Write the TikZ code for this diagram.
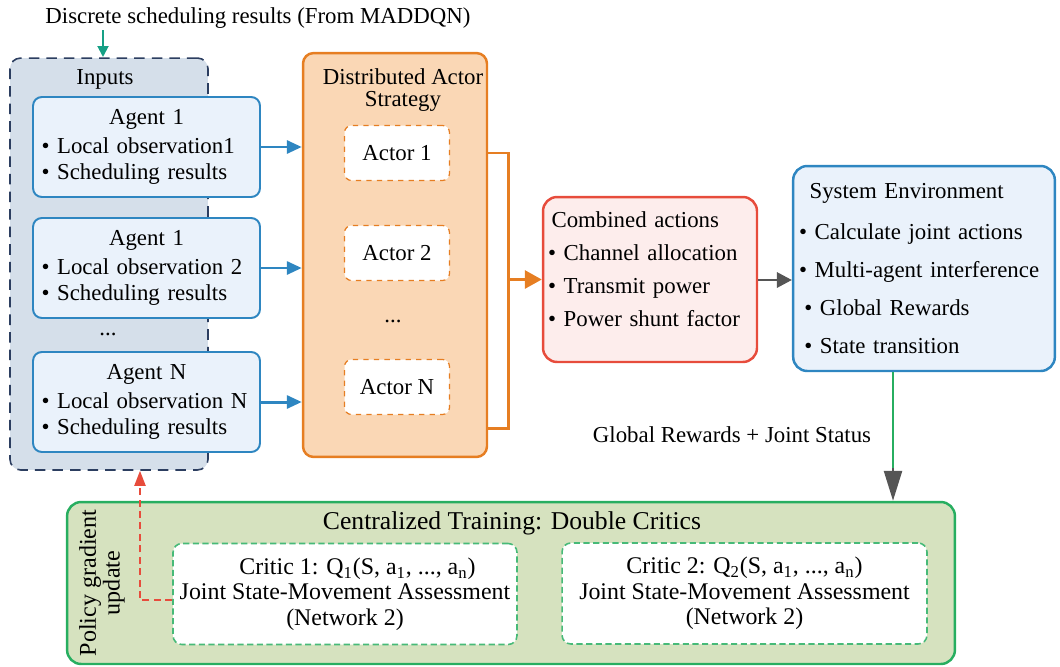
\documentclass[tikz,border=0pt]{standalone}
\usepackage{fontspec}
\setmainfont{Liberation Serif}
\usepackage{tikz}
\usetikzlibrary{arrows.meta, positioning}
\definecolor{inputnavy}{RGB}{44, 62, 96}
\definecolor{inputfill}{RGB}{213, 223, 234}
\definecolor{agentblue}{RGB}{46, 134, 193}
\definecolor{agentfill}{RGB}{234, 242, 251}
\definecolor{actororange}{RGB}{230, 126, 34}
\definecolor{actorfill}{RGB}{250, 215, 181}
\definecolor{combred}{RGB}{231, 76, 60}
\definecolor{combfill}{RGB}{253, 237, 236}
\definecolor{traingreen}{RGB}{39, 174, 96}
\definecolor{trainfill}{RGB}{214, 226, 191}
\definecolor{toparrow}{RGB}{22, 160, 133}
\definecolor{flowgray}{RGB}{85, 85, 85}

\begin{document}
\begin{tikzpicture}[
  x=0.02cm, y=-0.02cm,
  font=\fontsize{13}{14.5}\selectfont,
  group/.style={
    draw=inputnavy, dashed, dash pattern=on 6pt off 4pt, line width=0.9pt,
    rounded corners=6pt, fill=inputfill,
    minimum width=3.96cm, minimum height=8.24cm
  },
  agent/.style={
    draw=agentblue, line width=1.1pt, rounded corners=5pt, fill=agentfill,
    align=left, text width=4.2cm, inner xsep=0.17cm,
    minimum height=2cm
  },
  strategy/.style={
    draw=actororange, line width=1.4pt, rounded corners=6pt, fill=actorfill,
    minimum width=3.68cm, minimum height=8.08cm
  },
  actor/.style={
    draw=actororange, dashed, line width=0.7pt, rounded corners=4pt, fill=white,
    minimum width=2.1cm, minimum height=1.1cm
  },
  combo/.style={
    draw=combred, line width=1.4pt, rounded corners=8pt, fill=combfill,
    align=left, text width=4.08cm, inner xsep=0.1cm, minimum height=3.3cm,
    font=\fontsize{13}{18.8}\selectfont
  },
  envbox/.style={
    draw=agentblue, line width=1.4pt, rounded corners=8pt, fill=agentfill,
    align=left, text width=5.0cm, minimum height=4.1cm,
    font=\fontsize{13}{21.6}\selectfont
  },
  train/.style={
    draw=traingreen, line width=1.4pt, rounded corners=8pt, fill=trainfill,
    minimum width=17.76cm, minimum height=3.24cm
  },
  critic/.style={
    draw=traingreen!85!white, dashed, dash pattern=on 3.5pt off 2pt,
    line width=0.9pt, rounded corners=5pt,
    fill=white, minimum height=2.02cm, align=center,
    font=\fontsize{13.6}{14.5}\selectfont
  },
  feed/.style={line width=1.7pt, color=agentblue,
    -{Triangle[length=0.3cm, width=0.26cm]}},
  label/.style={inner sep=1pt}
]
  \useasboundingbox (0,0) rectangle (1060,666);

  % --- Nodes ---
  \node[label] (source) at (258, 18) {Discrete scheduling results (From MADDQN)};

  \node[group] (inputs) at (109, 264) {};
  \node[label] (inputsT) at (105, 79) {Inputs};

  \node[agent] (ag1) at (146.5, 147) {\makebox[\linewidth]{Agent 1}\\[2pt]
    \textbullet\ Local observation1\\
    \textbullet\ Scheduling results};
  \node[agent] (ag2) at (146.5, 268) {\makebox[\linewidth]{Agent 1}\\[2pt]
    \textbullet\ Local observation 2\\
    \textbullet\ Scheduling results};
  \node[label] (agDots) at (108, 334) {...};
  \node[agent] (agN) at (146.5, 402) {\makebox[\linewidth]{Agent N}\\[2pt]
    \textbullet\ Local observation N\\
    \textbullet\ Scheduling results};

  \node[strategy] (strat) at (395, 255) {};
  \node[label, align=center, font=\fontsize{13}{12.8}\selectfont] (stratT)
    at (403, 90) {Distributed Actor\\Strategy};

  \node[actor] (act1) at (397, 153) {Actor 1};
  \node[actor] (act2) at (397, 253) {Actor 2};
  \node[label] (actDots) at (393, 321) {...};
  \node[actor] (actN) at (397, 387) {Actor N};

  \node[combo] (comb) at (650, 279.5) {\hspace*{2pt}Combined actions\\
    \textbullet\ Channel allocation\\
    \textbullet\ Transmit power\\
    \textbullet\ Power shunt factor\\[-7pt]\mbox{}};

  \node[envbox] (env) at (924, 268.5) {\hspace*{6pt}System Environment\\[2pt]
    \textbullet\ Calculate joint actions\\
    \textbullet\ Multi-agent interference\\
    \hspace*{3pt}\textbullet\ Global Rewards\\
    \hspace*{3pt}\textbullet\ State transition};

  \node[train] (trainbox) at (511, 583) {};
  \node[label, font=\fontsize{14.6}{16}\selectfont] (trainT) at (512, 523)
    {Centralized Training: Double Critics};
  \node[label, rotate=90, align=center, font=\fontsize{13.7}{12}\selectfont] (pgrad)
    at (102, 583) {Policy gradient\\update};

  \node[critic, minimum width=6.88cm] (crit1) at (345, 594)
    {\hspace*{0.5cm}Critic 1: Q\textsubscript{1}(S, a\textsubscript{1}, ..., a\textsubscript{n})\\
     Joint State-Movement Assessment\\(Network 2)};
  \node[critic, minimum width=7.3cm] (crit2) at (744.5, 593.5)
    {Critic 2: Q\textsubscript{2}(S, a\textsubscript{1}, ..., a\textsubscript{n})\\
     Joint State-Movement Assessment\\(Network 2)};

  \node[label] (fbT) at (732, 435) {Global Rewards + Joint Status};

  % --- Connections ---
  \coordinate (srcIn) at (103, 57);
  \draw[toparrow, line width=1.1pt, -{Triangle[length=0.22cm, width=0.22cm]}]
    (source.south -| srcIn) -- (srcIn);

  % agents to actors
  \draw[feed] (ag1.east) -- (ag1.east -| strat.west);
  \draw[feed] (ag2.east) -- (ag2.east -| strat.west);
  \draw[feed] (agN.east) -- (agN.east -| strat.west);

  % actor outputs merged
  \coordinate (brTop) at (508, 153);
  \coordinate (brBot) at (508, 428);
  \draw[actororange, line width=1.7pt]
    (strat.east |- brTop) -- (brTop) -- (brBot) -- (strat.east |- brBot);
  \draw[actororange, line width=1.7pt, -{Triangle[length=0.34cm, width=0.36cm]}]
    (brTop |- comb.west) -- (comb.west);

  % actions to environment
  \draw[flowgray, line width=1.7pt, -{Triangle[length=0.3cm, width=0.3cm]}]
    (comb.east |- 0,280) -- (env.west |- 0,280);

  % environment feedback to critics
  \coordinate (fbTurn) at (893, 470);
  \draw[traingreen, line width=1.4pt] (env.south -| fbTurn) -- (fbTurn);
  \draw[flowgray, line width=1.4pt, -{Triangle[length=0.6cm, width=0.36cm]}]
    ([yshift=1pt]fbTurn) -- (fbTurn |- trainbox.north);

  % policy gradient back to inputs
  \draw[combred, dashed, dash pattern=on 4pt off 2.5pt, line width=1.1pt,
    -{Triangle[length=0.3cm, width=0.22cm]}]
    ([yshift=-0.12cm]crit1.west) -| ([xshift=0.62cm]inputs.south);

\end{tikzpicture}
\end{document}
